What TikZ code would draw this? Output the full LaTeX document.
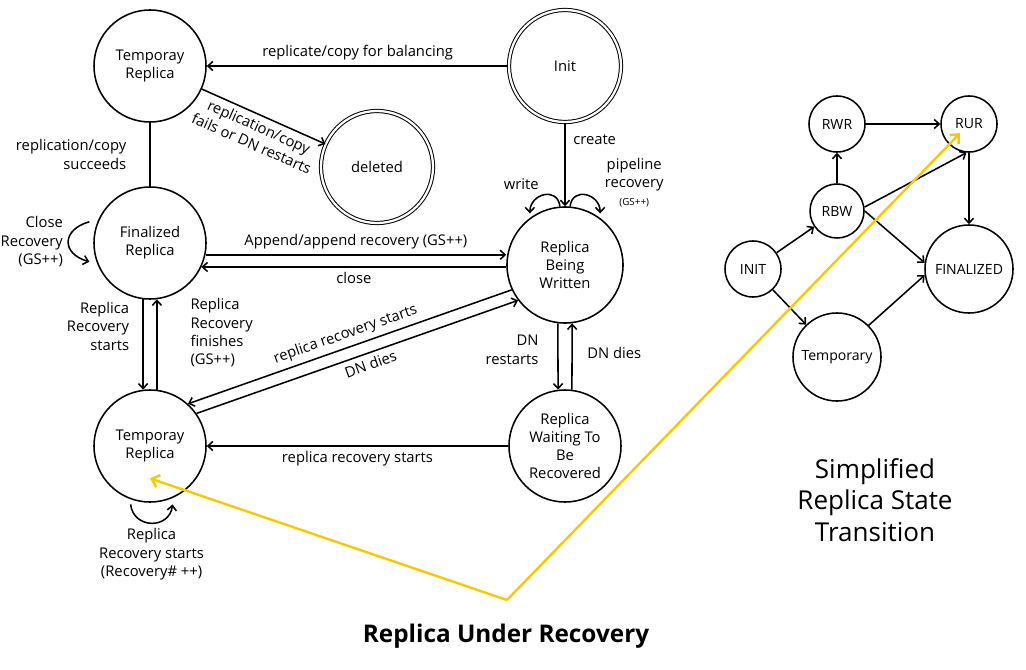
\documentclass[tikz,border=0pt]{standalone}
\usepackage{fontspec}
\setmainfont{Open Sans}
\usetikzlibrary{arrows.meta}
\definecolor{marker}{RGB}{250,200,0}

\begin{document}
\begin{tikzpicture}[x=0.025cm, y=-0.025cm, line width=1.1pt,
    >={Straight Barb[length=3.5pt, width=6.5pt]},
    font=\fontsize{10.5}{13}\selectfont,
    state/.style={draw, circle, minimum size=2.8cm, inner sep=0, align=center},
    endstate/.style={state, double, double distance=1.6pt, line width=0.7pt},
    mini/.style={draw, circle, minimum size=1.4cm, inner sep=0, font=\fontsize{10}{12}\selectfont},
    big/.style={mini, minimum size=2.2cm},
    hl/.style={draw=marker, line width=1.7pt, >={Straight Barb[length=5pt, width=9pt]}}]
    \useasboundingbox (0,0) rectangle (1026,670);

    \node[state] (tmpa) at (150,66) {Temporay\\Replica};
    \node[endstate] (init) at (565,66) {Init};
    \node[endstate] (deleted) at (377,167) {deleted};
    \node[state] (fin) at (150,243) {Finalized\\Replica};
    \node[state, minimum size=2.9cm] (rbw) at (565,265) {Replica\\Being\\Written};
    \node[state] (tmpb) at (150,446) {Temporay\\Replica};
    \node[state] (rwr) at (565,446) {Replica\\Waiting To\\Be\\Recovered};

    \draw[->] (init) -- (tmpa) node[midway, above] {replicate/copy for balancing};
    \draw[->] (tmpa) -- (deleted) node[midway, sloped, below, align=center] {replication/copy\\fails or DN restarts};
    \draw (tmpa) -- (fin) node[midway, left=13pt, align=right] {replication/copy\\succeeds};
    \draw[->] (fin.158) ++(-8,0) .. controls +(-28,8) and +(-28,-8) .. ++(0,40) node[pos=0.5, left, align=right] {Close\\Recovery\\(GS++)};
    \draw[->] (fin.-12) -- (fin.-12 -| rbw.west) node[midway, above] {Append/append recovery (GS++)};
    \draw[->] (rbw.west |- fin.-25) -- (fin.-25) node[midway, below] {close};
    \draw[->] (fin.263) -- (tmpb.97) node[pos=0.3, left=6pt, align=right] {Replica\\Recovery\\starts};
    \draw[->] (tmpb.83) -- (fin.277) node[pos=0.63, right=20pt, align=left] {Replica\\Recovery\\finishes\\(GS++)};
    \draw[->] (rbw.205) -- (tmpb.48) node[midway, sloped, above] {replica recovery starts};
    \draw[->] (tmpb.35) -- (rbw.217) node[pos=0.53, sloped, below] {DN dies};
    \draw[->] (rbw.263) -- (rwr.97) node[pos=0.4, left=10pt, align=right] {DN\\restarts};
    \draw[->] (rwr.83) -- (rbw.277) node[pos=0.55, right=7pt] {DN dies};
    \draw[->] (rwr) -- (tmpb) node[midway, below] {replica recovery starts};
    \draw[->] (tmpb.250) ++(0,5) .. controls +(3,25) and +(-3,25) .. ++(42,0) node[pos=0.5, below, align=center] {Replica\\Recovery starts\\(Recovery\# ++)};
    \draw[->] (init) -- (rbw) node[pos=0.2, right=2pt] {create};
    \draw[->] (rbw.95) .. controls +(-2,-20) and +(0,-20) .. ++(-30,7) node[pos=0.5, above left] {write};
    \draw[->] (rbw.85) .. controls +(2,-20) and +(0,-20) .. ++(30,7) node[pos=0.9, right, yshift=18pt, align=center] {pipeline\\recovery\\{\fontsize{7}{8}\selectfont (GS++)}};

    \node[mini] (rwr2) at (837,124) {RWR};
    \node[mini] (rur) at (969,124) {RUR};
    \node[mini, minimum size=1.35cm] (rbw2) at (837,211) {RBW};
    \node[mini] (init2) at (753,269) {INIT};
    \node[big] (fin2) at (969,269) {FINALIZED};
    \node[big] (tmp2) at (837,357) {Temporary};

    \draw[->] (rwr2) -- (rur);
    \draw[->] (rbw2) -- (rwr2);
    \draw[->] (rbw2.8) -- (rur.265);
    \draw[->] (rbw2.east) -- (fin2.172);
    \draw[->] (rur) -- (fin2);
    \draw[->] (init2) -- (rbw2);
    \draw[->] (init2) -- (tmp2);
    \draw[->] (tmp2.45) -- (fin2.188);

    \node[font=\fontsize{18.5}{22.4}\selectfont, align=center] (subtitle) at (875,500) {Simplified\\Replica State\\Transition};
    \node[font=\fontsize{17.3}{20}\selectfont\bfseries] (title) at (506,636) {Replica Under Recovery};

    \coordinate (hub) at (507,600);
    \draw[hl, ->, shorten >=9pt] (hub) -- (rur.center);
    \draw[hl, ->] (hub) -- ([yshift=-23pt]tmpb.center);
\end{tikzpicture}
\end{document}
